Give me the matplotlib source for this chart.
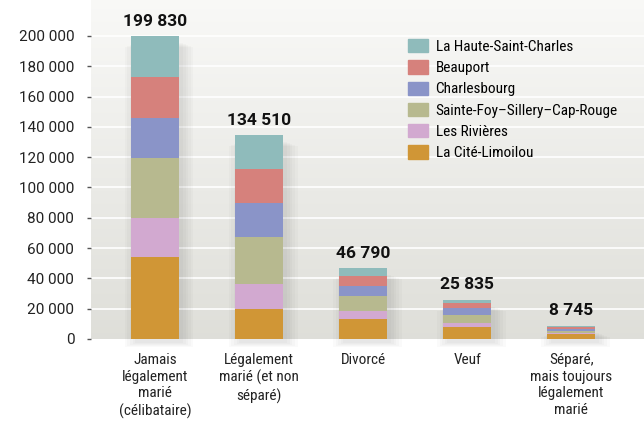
import numpy as np
import matplotlib
matplotlib.use("Agg")
from matplotlib import pyplot as plt
from matplotlib import font_manager
from matplotlib.patches import Patch

names = {f.name for f in font_manager.fontManager.ttflist}
family = [n for n in ['Liberation Sans Narrow', 'DejaVu Sans Condensed', 'Roboto Condensed', 'Lato']
          if n in names] + ['DejaVu Sans']
plt.rcParams['font.family'] = family
num_family = ['Roboto', 'DejaVu Sans']

categories = ['Jamais\nlégalement\nmarié\n(célibataire)',
              'Légalement\nmarié (et non\nséparé)',
              'Divorcé', 'Veuf',
              'Séparé,\nmais toujours\nlégalement\nmarié']
totals = ['199 830', '134 510', '46 790', '25 835', '8 745']

# stacked from bottom to top
cite_limoilou = [54100, 19800, 13000, 8100, 3000]
les_rivieres = [25900, 16700, 5300, 2600, 900]
sainte_foy = [39600, 30800, 10100, 5100, 1500]
charlesbourg = [26400, 22400, 6600, 4800, 1200]
beauport = [26900, 22400, 6400, 3100, 1300]
haute_st_charles = [26930, 22410, 5390, 2135, 845]

series = [
    ('La Cité-Limoilou', cite_limoilou, '#d09636'),
    ('Les Rivières', les_rivieres, '#d2a9d0'),
    ('Sainte-Foy\u2013Sillery\u2013Cap-Rouge', sainte_foy, '#b7b98f'),
    ('Charlesbourg', charlesbourg, '#8a94c8'),
    ('Beauport', beauport, '#d6817c'),
    ('La Haute-Saint-Charles', haute_st_charles, '#8fbbbb'),
]

fig = plt.figure(figsize=(6.44, 4.29), dpi=100)
ax = fig.add_axes([91 / 644, 90 / 429, 553 / 644, 339 / 429])

x = np.arange(len(categories))
ymax = 339 * 660
ax.set_xlim(-0.615, 4.70)
ax.set_ylim(0, ymax)

# background gradient
grad = np.linspace(0, 1, 256).reshape(-1, 1)
top = np.array([0.975, 0.975, 0.968])
bot = np.array([0.873, 0.873, 0.851])
img = top + (bot - top) * grad[..., None]
ax.imshow(img, extent=[-0.615, 4.70, 0, ymax], aspect='auto', zorder=0, origin='upper')

for yv in range(20000, 200001, 20000):
    ax.axhline(yv, color='white', lw=1.2, zorder=1)

width = 0.46
stack = np.array([sum(v) for v in zip(*[s[1] for s in series])])

# soft shadow
for k in range(5):
    ax.bar(x + 0.04, stack - 2000, width + 0.05 * k, bottom=-2500 - 700 * k,
           color='black', alpha=0.018, lw=0, zorder=1.5, clip_on=False)

bottom = np.zeros(len(x))
for name, vals, col in series:
    ax.bar(x, vals, width, bottom=bottom, color=col, lw=0, zorder=2, label=name)
    bottom += np.array(vals)

for xi, tot, lab in zip(x, stack, totals):
    ax.text(xi, tot + 5000, lab, ha='center', va='bottom', fontsize=12.5,
            fontweight='bold', color='#111111', family=num_family)

ax.set_yticks(range(0, 200001, 20000))
ax.set_yticklabels([f'{v:,}'.replace(',', ' ') for v in range(0, 200001, 20000)],
                   fontsize=11, color='#222222', family=num_family)
ax.tick_params(axis='y', length=3, width=1, color='#555555', pad=9)
ax.set_xticks(x)
ax.set_xticklabels(categories, fontsize=11, color='#222222', linespacing=1.25)
ax.tick_params(axis='x', length=0, pad=10)
for s in ax.spines.values():
    s.set_visible(False)

handles = [Patch(color=c, label=n) for n, v, c in series][::-1]
fig.legend(handles=handles, loc='upper left', bbox_to_anchor=(402 / 644, 1 - 33 / 429),
           frameon=False, fontsize=11, handlelength=1.3, handleheight=0.95,
           labelspacing=0.42, handletextpad=0.5, borderaxespad=0)

fig.savefig('out.png', dpi=100)
